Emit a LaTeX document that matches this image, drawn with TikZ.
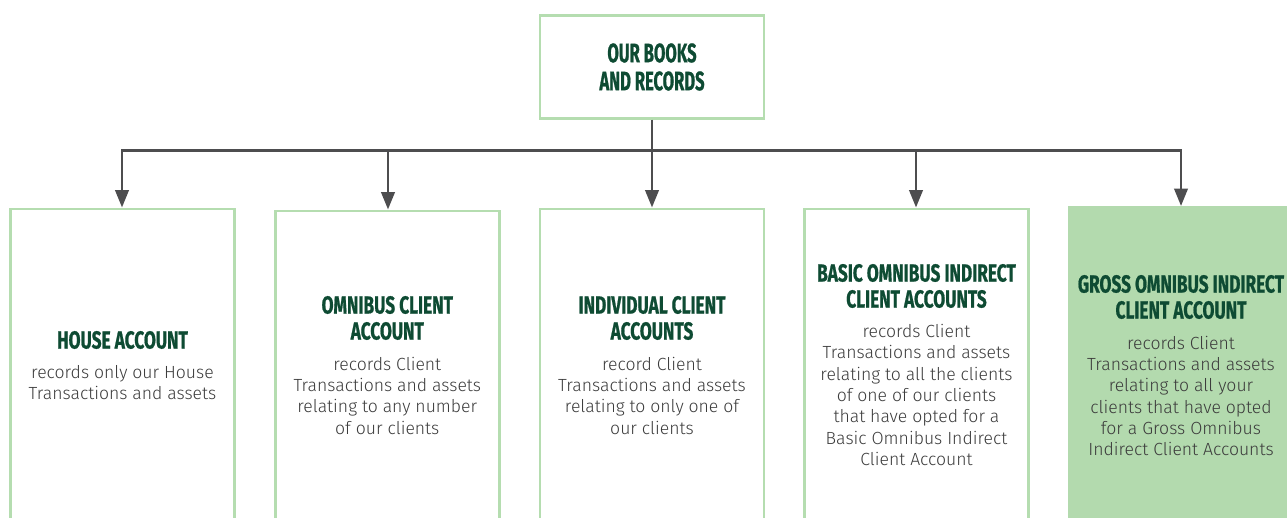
\documentclass[tikz,border=0pt]{standalone}
\usepackage{fontspec}
\setmainfont{Fira Sans}
\newfontfamily\titlefont{Fira Sans}[FakeStretch=0.7,BoldFeatures={FakeBold=0.8}]
\newfontfamily\toptitlefont{Fira Sans}[FakeStretch=0.62,BoldFeatures={FakeBold=0.8}]
\newfontfamily\bodyfont{Fira Sans Light}
\usetikzlibrary{arrows.meta}
\definecolor{titlegreen}{HTML}{0E4B33}
\definecolor{boxgreen}{HTML}{B5DDB0}
\definecolor{fillgreen}{HTML}{B3DAAE}
\definecolor{arrowgray}{HTML}{4D4D4F}
\definecolor{bodygray}{HTML}{3C3C3C}
\begin{document}
\begin{tikzpicture}[x=0.75pt,y=-0.75pt,
  box/.style={draw=boxgreen, line width=2.2pt, minimum width=168pt, inner sep=0pt},
  fbox/.style={fill=fillgreen, minimum width=170pt, inner sep=0pt},
  ttl/.style={font=\titlefont\bfseries\fontsize{18.5}{19.5}\selectfont, text=titlegreen, align=center, inner sep=0pt},
  bigttl/.style={font=\toptitlefont\bfseries\fontsize{20}{21}\selectfont, text=titlegreen, align=center, inner sep=0pt},
  bodytext/.style={font=\bodyfont\fontsize{13.2}{16}\selectfont, text=bodygray, align=center, inner sep=0pt},
  conn/.style={draw=arrowgray, line width=2pt},
  arrowline/.style={conn, -{Triangle[width=10pt,length=13pt]}}]
\useasboundingbox (0,0) rectangle (1287,517);
\clip (0,0) rectangle (1287,517);
% boxes
\node[box, minimum height=77pt] (top) at (652,66.7) {};
\node[box, minimum height=250pt, anchor=north] (b1) at (122.5,207.5) {};
\node[box, minimum height=250pt, anchor=north] (b2) at (387.3,209.5) {};
\node[box, minimum height=250pt, anchor=north] (b3) at (652,207.5) {};
\node[box, minimum height=250pt, anchor=north] (b4) at (916.5,207.5) {};
\node[fbox, minimum height=250pt, anchor=north] (b5) at (1181,206) {};
% texts
\node[bigttl] (tt) at (652,67) {OUR BOOKS\\AND RECORDS};
\node[ttl] (t1) at (122.5,340) {HOUSE ACCOUNT};
\node[bodytext] (d1) at (122.5,382.5) {records only our House\\Transactions and assets};
\node[ttl] (t2) at (387.3,318) {OMNIBUS CLIENT\\ACCOUNT};
\node[bodytext] (d2) at (387.3,395.5) {records Client\\Transactions and assets\\relating to any number\\of our clients};
\node[ttl] (t3) at (652,318) {INDIVIDUAL CLIENT\\ACCOUNTS};
\node[bodytext] (d3) at (652,395.5) {record Client\\Transactions and assets\\relating to only one of\\our clients};
\node[ttl] (t4) at (916.5,286) {BASIC OMNIBUS INDIRECT\\CLIENT ACCOUNTS};
\node[bodytext] (d4) at (916.5,395) {records Client\\Transactions and assets\\relating to all the clients\\of one of our clients\\that have opted for a\\Basic Omnibus Indirect\\Client Account};
\node[ttl] (t5) at (1181,297) {GROSS OMNIBUS INDIRECT\\CLIENT ACCOUNT};
\node[bodytext] (d5) at (1181,396) {records Client\\Transactions and assets\\relating to all your\\clients that have opted\\for a Gross Omnibus\\Indirect Client Accounts};
% connectors
\coordinate (j0) at (652,150.5);
\coordinate (j1) at (122,150.5);
\coordinate (j2) at (388,150.5);
\coordinate (j4) at (916,150.5);
\coordinate (j5) at (1181,150.5);
\draw[conn] (top.south) -- (j0);
\draw[conn, line cap=rect] (j1) -- (j5);
\draw[arrowline] (j1) -- (j1 |- b1.north);
\draw[arrowline] (j2) -- (j2 |- b2.north);
\draw[arrowline] (j0) -- (b3.north);
\draw[arrowline] (j4) -- (j4 |- b4.north);
\draw[arrowline] (j5) -- (j5 |- b5.north);
\end{tikzpicture}
\end{document}
